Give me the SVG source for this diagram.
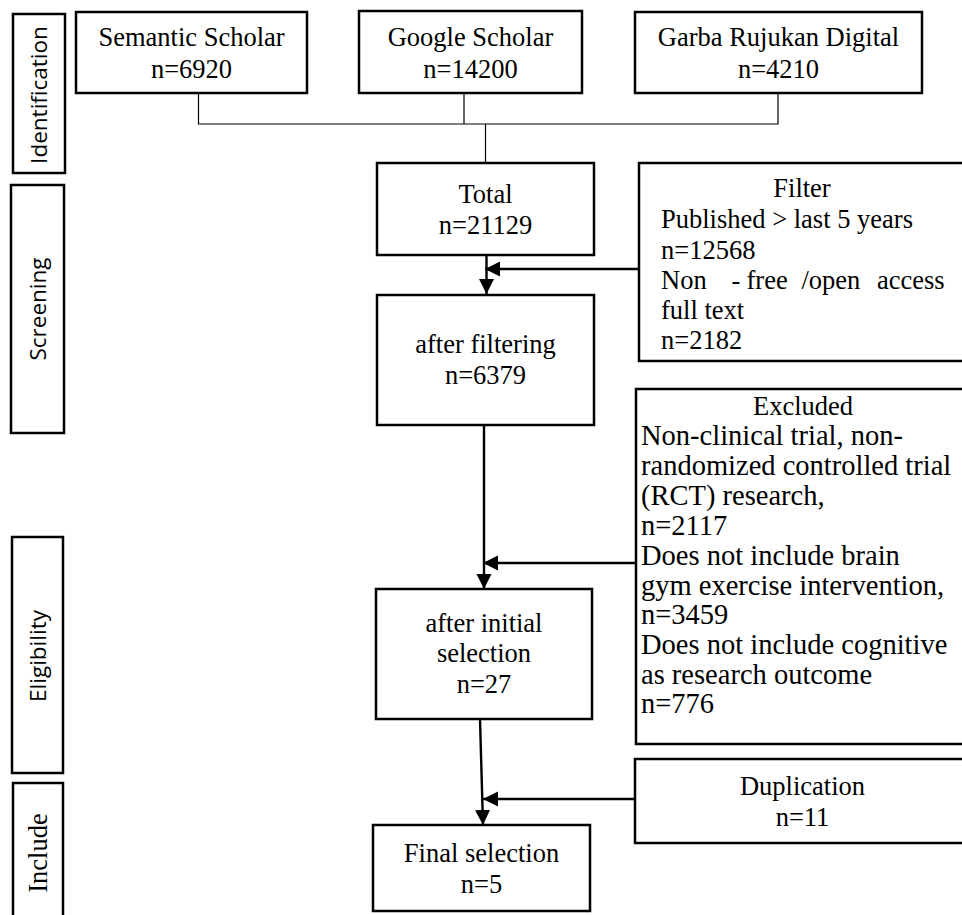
<svg xmlns="http://www.w3.org/2000/svg" width="962" height="915" viewBox="0 0 962 915">
<defs>
<style>
.box{fill:#fff;stroke:#000;stroke-width:2.5}
.t{font-family:"Liberation Serif","Times New Roman",serif;font-size:26.5px;fill:#000}
.c{text-anchor:middle}
.s{font-family:"Open Sans","Noto Sans",sans-serif;font-size:22.5px;fill:#000;text-anchor:middle}
.thin{stroke:#000;stroke-width:1.2;fill:none}
.arr{stroke:#000;stroke-width:2.4;fill:none;marker-end:url(#ah)}
.ex{font-size:28.5px}
</style>
<marker id="ah" markerUnits="userSpaceOnUse" markerWidth="16" markerHeight="16" refX="15" refY="7.5" orient="auto">
<path d="M0,0 L15,7.5 L0,15 z" fill="#000"/>
</marker>
</defs>
<rect width="962" height="915" fill="#fff"/>

<g id="stage-identification">
<rect class="box" x="13" y="14" width="52" height="159"/>
<text class="s" transform="translate(47,95) rotate(-90)">Identification</text>
</g>
<g id="stage-screening">
<rect class="box" x="11" y="185" width="53" height="248"/>
<text class="s" transform="translate(46,309) rotate(-90)">Screening</text>
</g>
<g id="stage-eligibility">
<rect class="box" x="12" y="537" width="51" height="236"/>
<text class="s" transform="translate(46,656) rotate(-90)">Eligibility</text>
</g>
<g id="stage-include">
<path d="M13,930 V783 H63 V930" fill="none" stroke="#000" stroke-width="2.5"/>
<text class="t c" transform="translate(47,853) rotate(-90)">Include</text>
</g>

<g id="connectors">
<path class="thin" d="M198.5,93 V124 H778 V93"/>
<path class="thin" d="M464,93 V124"/>
<path class="thin" d="M485.5,124 V163"/>
<path class="arr" d="M486.5,255 V294"/>
<path class="arr" d="M639,269 H485"/>
<path class="arr" d="M484,425 V589"/>
<path class="arr" d="M636,563 H483"/>
<path class="arr" d="M480,719 L483,825"/>
<path class="arr" d="M635,799 H483"/>
</g>

<g id="semantic-scholar">
<rect class="box" x="76" y="12" width="231" height="81"/>
<text class="t c" x="191.5" y="46">Semantic Scholar</text>
<text class="t c" x="191.5" y="78">n=6920</text>
</g>
<g id="google-scholar">
<rect class="box" x="359" y="11" width="223" height="82"/>
<text class="t c" x="470.5" y="46">Google Scholar</text>
<text class="t c" x="470.5" y="78">n=14200</text>
</g>
<g id="garba">
<rect class="box" x="635" y="12" width="287" height="81"/>
<text class="t c" x="778.5" y="46">Garba Rujukan Digital</text>
<text class="t c" x="778.5" y="78">n=4210</text>
</g>
<g id="total">
<rect class="box" x="377" y="163" width="217" height="92"/>
<text class="t c" x="485.5" y="203">Total</text>
<text class="t c" x="485.5" y="234">n=21129</text>
</g>
<g id="filter">
<rect class="box" x="639" y="163" width="340" height="198"/>
<text class="t c" x="802" y="197">Filter</text>
<text class="t" x="661" y="228">Published &gt; last 5 years</text>
<text class="t" x="661" y="259">n=12568</text>
<text class="t" y="289"><tspan x="661">Non</tspan><tspan x="731.5">-</tspan><tspan x="746.5">free</tspan><tspan x="801.5">/open</tspan><tspan x="877">access</tspan></text>
<text class="t" x="661" y="319">full text</text>
<text class="t" x="661" y="349">n=2182</text>
</g>
<g id="after-filtering">
<rect class="box" x="377" y="295" width="217" height="130"/>
<text class="t c" x="485.5" y="353">after filtering</text>
<text class="t c" x="485.5" y="384">n=6379</text>
</g>
<g id="excluded">
<rect class="box" x="636" y="389" width="340" height="355"/>
<text class="t c" x="803" y="415">Excluded</text>
<text class="t ex" x="641" y="445">Non-clinical trial, non-</text>
<text class="t ex" x="641" y="475">randomized controlled trial</text>
<text class="t ex" x="641" y="505">(RCT) research,</text>
<text class="t ex" x="641" y="535">n=2117</text>
<text class="t ex" x="641" y="565">Does not include brain</text>
<text class="t ex" x="641" y="595">gym exercise intervention,</text>
<text class="t ex" x="641" y="624">n=3459</text>
<text class="t ex" x="641" y="654">Does not include cognitive</text>
<text class="t ex" x="641" y="684">as research outcome</text>
<text class="t ex" x="641" y="713">n=776</text>
</g>
<g id="after-initial-selection">
<rect class="box" x="376" y="589" width="216" height="130"/>
<text class="t c" x="484" y="632">after initial</text>
<text class="t c" x="484" y="662">selection</text>
<text class="t c" x="484" y="693">n=27</text>
</g>
<g id="duplication">
<rect class="box" x="635" y="759" width="340" height="84"/>
<text class="t c" x="802.5" y="795">Duplication</text>
<text class="t c" x="802.5" y="826">n=11</text>
</g>
<g id="final-selection">
<rect class="box" x="373" y="825" width="217" height="86"/>
<text class="t c" x="481.5" y="862">Final selection</text>
<text class="t c" x="481.5" y="893">n=5</text>
</g>
</svg>
